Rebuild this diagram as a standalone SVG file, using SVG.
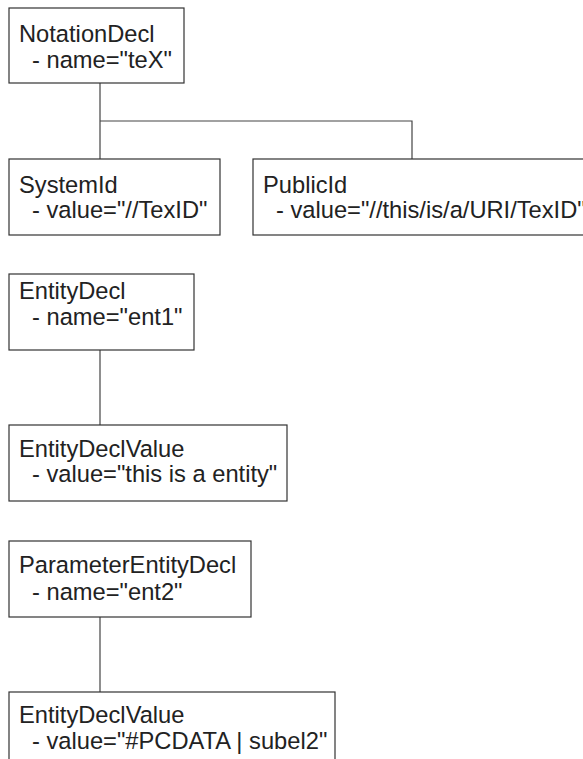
<svg xmlns="http://www.w3.org/2000/svg" width="583" height="759" viewBox="0 0 583 759">
<style>
.box{fill:#fff;stroke:#333;stroke-width:1.2}
.t{font-family:"Liberation Sans",Arial,sans-serif;font-size:23.7px;fill:#222}
.c{fill:none;stroke:#444;stroke-width:1.2}
</style>
<rect width="583" height="759" fill="#fff"/>
<g id="connectors">
<path class="c" d="M100 83V159M100 121H412V159"/>
<path class="c" d="M100 350V425"/>
<path class="c" d="M100 617V692"/>
</g>
<g id="notationDecl">
<rect class="box" x="9" y="8" width="175" height="75"/>
<text class="t" x="19" y="42">NotationDecl</text>
<text class="t" x="32" y="68">- name="teX"</text>
</g>
<g id="systemId">
<rect class="box" x="9" y="159" width="211" height="76"/>
<text class="t" x="19" y="193">SystemId</text>
<text class="t" x="32" y="218">- value="//TexID"</text>
</g>
<g id="publicId">
<rect class="box" x="253" y="159" width="340" height="76"/>
<text class="t" x="263" y="193">PublicId</text>
<text class="t" x="276" y="218">- value="//this/is/a/URI/TexID"</text>
</g>
<g id="entityDecl">
<rect class="box" x="9" y="274" width="185" height="76"/>
<text class="t" x="19" y="299">EntityDecl</text>
<text class="t" x="32" y="325">- name="ent1"</text>
</g>
<g id="entityDeclValue1">
<rect class="box" x="9" y="425" width="278" height="76"/>
<text class="t" x="19" y="457">EntityDeclValue</text>
<text class="t" x="32" y="482">- value="this is a entity"</text>
</g>
<g id="parameterEntityDecl">
<rect class="box" x="9" y="541" width="242" height="76"/>
<text class="t" x="19" y="573">ParameterEntityDecl</text>
<text class="t" x="32" y="600">- name="ent2"</text>
</g>
<g id="entityDeclValue2">
<rect class="box" x="9" y="692" width="326" height="80"/>
<text class="t" x="19" y="723">EntityDeclValue</text>
<text class="t" x="32" y="749">- value="#PCDATA | subel2"</text>
</g>
</svg>
